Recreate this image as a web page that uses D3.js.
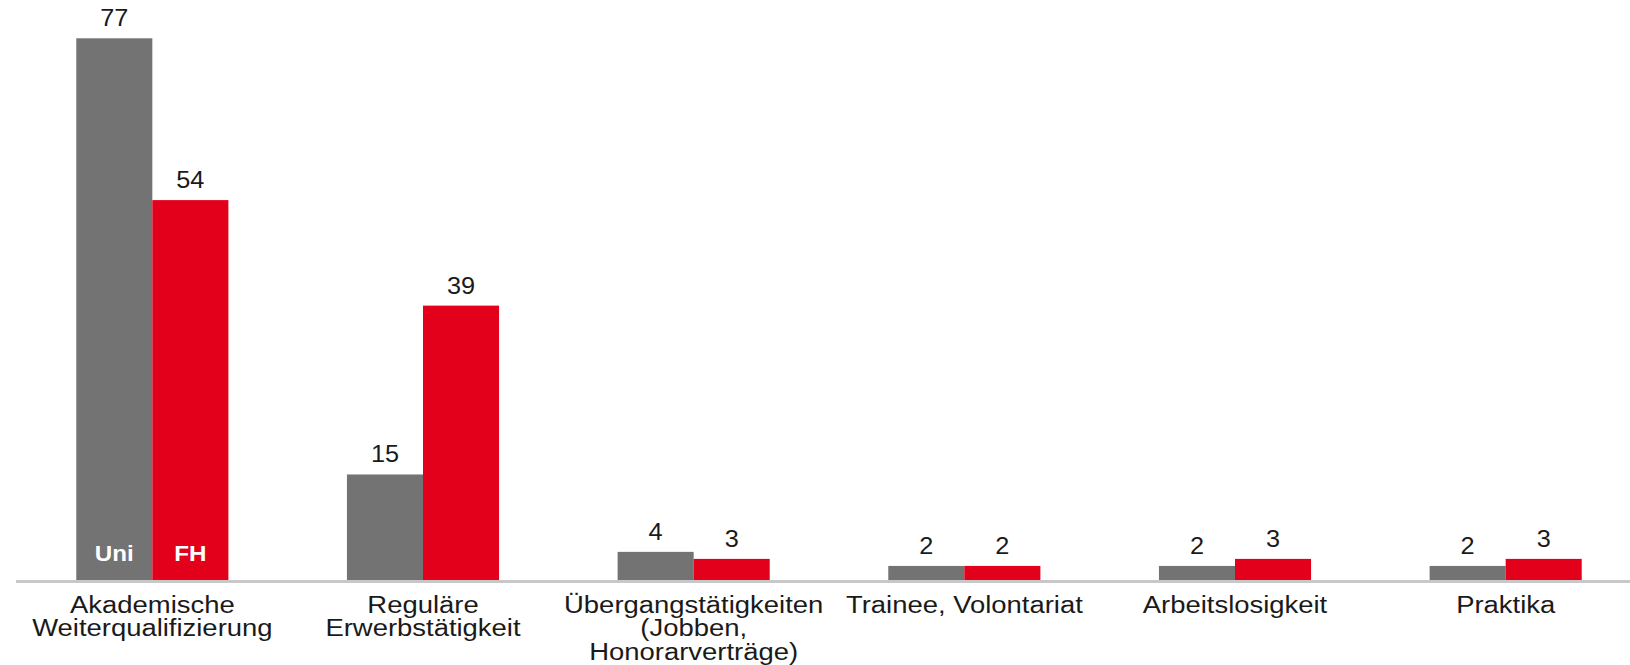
<!DOCTYPE html>
<html>
<head>
<meta charset="utf-8">
<script src="https://cdn.jsdelivr.net/npm/d3@7"></script>
<style>
  body { margin: 0; background: #fff; }
  text { font-family: Arial, "Liberation Sans", sans-serif; }
</style>
</head>
<body>
<svg></svg>
<script>
var categories = [
    ["Akademische", "Weiterqualifizierung"],
    ["Reguläre", "Erwerbstätigkeit"],
    ["Übergangstätigkeiten", "(Jobben,", "Honorarverträge)"],
    ["Trainee, Volontariat"],
    ["Arbeitslosigkeit"],
    ["Praktika"]
];
var seriesNames = ["Uni", "FH"];
var uniValues = [77, 15, 4, 2, 2, 2];
var fhValues = [54, 39, 3, 2, 3, 3];
var colors = ["#737373", "#e2001a"];

var svgWidth = 1630, svgHeight = 665;
var svg = d3.select("svg")
        .attr("width", svgWidth)
        .attr("height", svgHeight);

var catKeys = categories.map(function(c){ return c.join(" "); });
var rows = catKeys.map(function(k, i){ return {key: k, lines: categories[i], values: [uniValues[i], fhValues[i]]}; });

var x0 = d3.scaleBand().domain(catKeys).range([17, 1641]).paddingInner(0.438).paddingOuter(0.219);
var x1 = d3.scaleBand().domain(seriesNames).range([0, x0.bandwidth()]).padding(0);
var y = d3.scaleLinear().domain([0, 77]).range([580, 38.3]);

// baseline
svg.append("line")
    .attr("x1", 16).attr("x2", svgWidth)
    .attr("y1", y(0) + 1.5).attr("y2", y(0) + 1.5)
    .attr("stroke", "#c8c8c8")
    .attr("stroke-width", 3);

var groups = svg.selectAll(".grp")
        .data(rows)
        .enter()
        .append("g")
        .attr("class", "grp")
        .attr("transform", function(d){ return "translate(" + x0(d.key) + ",0)"; });

groups.selectAll("rect")
    .data(function(d){ return d.values.map(function(v, i){ return {name: seriesNames[i], v: v}; }); })
    .enter()
    .append("rect")
    .attr("x", function(d){ return x1(d.name); })
    .attr("y", function(d){ return y(d.v); })
    .attr("width", x1.bandwidth())
    .attr("height", function(d){ return y(0) - y(d.v); })
    .attr("fill", function(d, i){ return colors[i]; });

// value labels
groups.selectAll(".val")
    .data(function(d){ return d.values.map(function(v, i){ return {name: seriesNames[i], v: v}; }); })
    .enter()
    .append("text")
    .attr("class", "val")
    .attr("transform", function(d){ return "translate(" + (x1(d.name) + x1.bandwidth() / 2) + "," + (y(d.v) - 12) + ") scale(1.1,1)"; })
    .attr("text-anchor", "middle")
    .style("font-size", "23px")
    .style("fill", "#1a1a1a")
    .text(function(d){ return d.v; });

// series names inside first group
svg.selectAll(".sname")
    .data(seriesNames)
    .enter()
    .append("text")
    .attr("class", "sname")
    .attr("transform", function(d){ return "translate(" + (x0(catKeys[0]) + x1(d) + x1.bandwidth() / 2) + "," + (y(0) - 19) + ") scale(1.1,1)"; })
    .attr("text-anchor", "middle")
    .style("font-size", "22px")
    .style("font-weight", "bold")
    .style("fill", "#fff")
    .text(function(d){ return d; });

// category labels
var cat = svg.selectAll(".cat")
        .data(rows)
        .enter()
        .append("text")
        .attr("class", "cat")
        .attr("transform", function(d){ return "translate(" + (x0(d.key) + x0.bandwidth() / 2) + ",613) scale(1.12,1)"; })
        .attr("text-anchor", "middle")
        .style("font-size", "24.5px")
        .style("fill", "#1a1a1a");

cat.selectAll("tspan")
    .data(function(d){ return d.lines; })
    .enter()
    .append("tspan")
    .attr("x", 0)
    .attr("dy", function(d, i){ return i === 0 ? 0 : 23.5; })
    .text(function(d){ return d; });
</script>
</body>
</html>
